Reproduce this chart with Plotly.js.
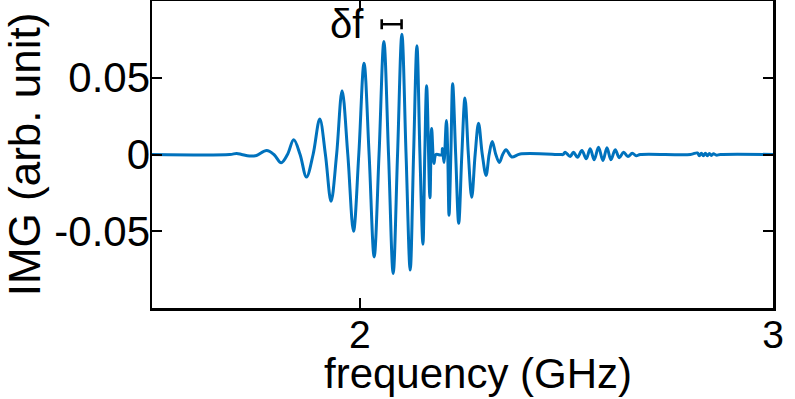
<!DOCTYPE html>
<html>
<head>
<meta charset="utf-8">
<script src="https://cdn.plot.ly/plotly-3.0.1.min.js"></script>
<style>html,body{margin:0;padding:0;background:#fff;}#chart{width:795px;height:399px;}</style>
</head>
<body>
<div id="chart"></div>
<script>
// Frequency (GHz) of the read-off points of the IMG trace
const freq = [
  1.496, 1.685, 1.702, 1.714, 1.733, 1.750,
  1.7745, 1.7921, 1.8097, 1.8249, 1.8400, 1.8554, 1.8708, 1.8869, 1.9030, 1.9167,
  1.9304, 1.9438, 1.9571, 1.9709, 1.9847, 1.9975, 2.0102, 2.0225, 2.0347, 2.0465,
  2.0582, 2.0695, 2.0807, 2.0913, 2.1018, 2.1119, 2.1219, 2.1301, 2.1382, 2.1455,
  2.1527, 2.1572, 2.1617, 2.1697, 2.1738, 2.1794, 2.1842, 2.1976, 2.2000, 2.2036,
  2.2096, 2.2128, 2.2159, 2.2203, 2.2247, 2.2320, 2.2393, 2.2469, 2.2545, 2.2627,
  2.2708, 2.2791, 2.2873, 2.2964, 2.3055, 2.3130, 2.3205, 2.3291, 2.3377, 2.3458,
  2.3539, 2.3677, 2.3879, 2.4848,
  2.4921, 2.4970, 2.5091, 2.5171, 2.5268, 2.5375, 2.5479, 2.5576, 2.5673, 2.5777,
  2.5884, 2.5981, 2.6077, 2.6182, 2.6279, 2.6383, 2.6490, 2.6594, 2.6691, 2.6788,
  2.8000, 2.8170, 2.8218, 2.8267, 2.8315, 2.8364, 2.8412, 2.8461, 2.8509, 2.8558,
  2.8630, 2.8727, 3.000
];
// IMG (arb. unit) at those points
const img = [
  0, 0, 0.00065, 0, -0.001, -0.00065,
  0.0026, 0, -0.0054, 0, 0.0096, 0, -0.0147, 0, 0.0231, 0,
  -0.0305, 0, 0.0416, 0, -0.0500, 0, 0.0595, 0, -0.0667, 0,
  0.0736, 0, -0.0775, 0, 0.0784, 0, -0.0753, 0, 0.0708, 0,
  -0.0584, 0, 0.0448, -0.0282, 0.0169, -0.0058, 0, -0.0003, 0.0039, -0.0052,
  0.0221, 0, -0.0396, 0, 0.0461, 0, -0.0448, 0, 0.0368, 0,
  -0.0279, 0, 0.0203, 0, -0.0136, 0, 0.0084, 0, -0.0052, 0,
  0.0031, -0.0016, 0.0003, 0,
  0, 0.0015, -0.0013, 0.0015, -0.0018, 0.0026, -0.0028, 0.0037, -0.0034, 0.0047,
  -0.0039, 0.0044, -0.0034, 0.0031, -0.0021, 0.0015, -0.0013, 0.0008, -0.0008, 0,
  0, 0.001, -0.0008, 0.0008, -0.0008, 0.0008, -0.0008, 0.0006, -0.0006, 0.0005,
  -0.0004, 0, 0
];
// delta-f marker (one oscillation period)
const dfStart = 2.053;
const dfEnd = 2.101;
const dfLevel = 0.0849;
const dfLabel = "δf";

const xTickVals = [2, 3];
const xTickText = ["2", "3"];
const yTickVals = [-0.05, 0, 0.05];
const yTickText = ["-0.05", "0", "0.05"];
const xTitle = "frequency (GHz)";
const yTitle = "IMG (arb. unit)";

const FONT = "Liberation Sans, Arial, Helvetica, sans-serif";

const traces = [
  {
    x: freq, y: img, type: "scatter", mode: "lines",
    line: {color: "#0072BD", width: 3, shape: "spline", smoothing: 1},
    hoverinfo: "skip", showlegend: false
  },
  {
    x: [(dfStart + dfEnd) / 2], y: [dfLevel], type: "scatter", mode: "markers",
    marker: {size: 1, color: "rgba(0,0,0,0)"},
    error_x: {type: "data", symmetric: true, array: [(dfEnd - dfStart) / 2],
              color: "#000", thickness: 2.6, width: 5},
    hoverinfo: "skip", showlegend: false
  }
];

const layout = {
  width: 795, height: 399,
  margin: {l: 152, r: 22, t: 1, b: 91},
  paper_bgcolor: "#fff", plot_bgcolor: "#fff",
  font: {family: FONT, color: "#000", size: 40},
  xaxis: {
    range: [1.497, 3.0], tickvals: xTickVals, ticktext: xTickText,
    ticks: "inside", ticklen: 10, tickwidth: 2, tickcolor: "#000",
    showline: true, linecolor: "#000", linewidth: 2.5, mirror: "ticks",
    showgrid: false, zeroline: false, ticklabelstandoff: -9,
    tickfont: {family: FONT, size: 39, color: "#000"},
    title: {text: ""}
  },
  yaxis: {
    range: [-0.1, 0.1], tickvals: yTickVals, ticktext: yTickText,
    ticks: "inside", ticklen: 10, tickwidth: 2, tickcolor: "#000",
    showline: true, linecolor: "#000", linewidth: 2.5, mirror: "ticks",
    showgrid: false, zeroline: false, ticklabelstandoff: -9,
    tickfont: {family: FONT, size: 42, color: "#000"},
    title: {text: yTitle, font: {family: FONT, size: 44, color: "#000"}, standoff: 2}
  },
  annotations: [
    {x: 1.9685, y: dfLevel, xref: "x", yref: "y", text: dfLabel, showarrow: false,
     font: {family: FONT, size: 40, color: "#000"}, xanchor: "center", yanchor: "middle"},
    {x: 0.525, y: -0.214, xref: "paper", yref: "paper", text: xTitle, showarrow: false,
     font: {family: FONT, size: 42, color: "#000"}, xanchor: "center", yanchor: "middle"}
  ]
};

Plotly.newPlot("chart", traces, layout, {displayModeBar: false, staticPlot: true});
</script>
</body>
</html>
